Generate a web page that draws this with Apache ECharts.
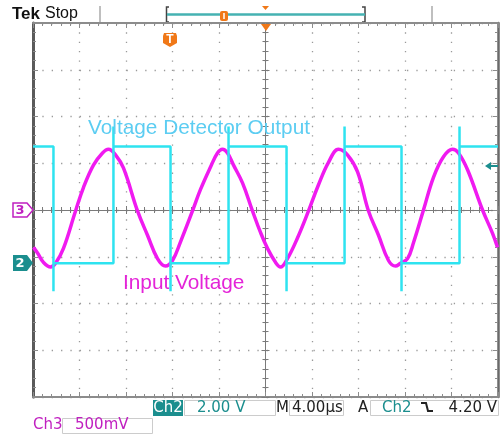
<!DOCTYPE html>
<html><head><meta charset="utf-8">
<script src="https://cdn.jsdelivr.net/npm/echarts@6/dist/echarts.min.js"></script>
<style>html,body{margin:0;padding:0;background:#fff}#c{width:500px;height:434px}</style>
</head><body><div id="c"></div>
<script>
// Horizontal: 4.00 µs/div, 10 divisions, trigger at centre
const timeMin = -20, timeMax = 20, timePerDiv = 4;
// Ch3 (Input Voltage): 500 mV/div, ground marker at centre
const ch3Min = -2, ch3Max = 2, ch3PerDiv = 0.5;
// Ch2 (Voltage Detector Output): 2.00 V/div, ground marker 1.14 div below centre
const ch2Min = -5.72, ch2Max = 10.28;

// Ch3 trace (µs, V)
const ch3Time = [-19.96,-19.61,-19.10,-18.49,-18.06,-17.38,-16.34,-15.66,-14.80,-14.02,-13.51,-12.90,-12.22,-11.01,-10.15,-9.29,
  -8.60,-8.00,-7.31,-6.28,-5.59,-4.73,-4.13,-3.70,-3.27,-2.75,-1.98,-1.12,-0.43,0.17,0.86,
  1.29,1.89,2.75,3.70,4.56,5.42,6.28,7.05,7.91,8.86,9.72,10.58,11.18,
  11.61,12.22,12.73,13.59,14.45,15.31,16.09,16.60,17.38,18.67,19.53,19.96];
const ch3Volt = [-0.40,-0.46,-0.56,-0.61,-0.57,-0.41,-0.01,0.24,0.48,0.61,0.65,0.59,0.45,-0.01,-0.27,-0.52,
  -0.60,-0.54,-0.34,-0.01,0.22,0.46,0.61,0.65,0.61,0.48,0.29,-0.01,-0.24,-0.41,-0.56,
  -0.61,-0.52,-0.30,-0.01,0.27,0.51,0.65,0.59,0.41,-0.01,-0.27,-0.54,-0.60,
  -0.57,-0.52,-0.35,0.00,0.35,0.57,0.65,0.61,0.43,0.00,-0.25,-0.40];

const ch2Time = [-20,-18.24,-18.24,-18.24,-13.08,-13.08,-13.08,-8.17,-8.17,-8.17,-3.18,-3.18,-3.18,
  1.81,1.81,1.81,6.80,6.80,6.80,11.70,11.70,11.70,16.69,16.69,16.69,20];
const ch2Volt = [5.0,5.0,-1.2,0.0,0.0,5.85,5.0,5.0,-1.2,0.0,0.0,5.85,5.0,
  5.0,-1.2,0.0,0.0,5.85,5.0,5.0,-1.2,0.0,0.0,5.85,5.0,5.0];

const GRID_C = '#8c8c8c', TEAL = '#1b8e8e', ORANGE = '#f07818', MAG = '#c020c0';

function borderX(pos){
  return {type:'value', min:timeMin, max:timeMax, interval:timePerDiv, position:pos,
    axisLine:{show:true,onZero:false,lineStyle:{color:GRID_C,width:2}},
    axisTick:{show:true,inside:true,length:5,lineStyle:{color:GRID_C}},
    minorTick:{show:true,splitNumber:5,length:3,lineStyle:{color:GRID_C}},
    axisLabel:{show:false},
    splitLine:{show:pos==='bottom',lineStyle:{color:'#9a9a9a',width:1.3,type:[1.3,8.05]}}};
}
function centreX(inside){
  return {type:'value', min:timeMin, max:timeMax, interval:timePerDiv, position:'bottom',
    axisLine:{show:true,onZero:true,onZeroAxisIndex:0,lineStyle:{color:'#7a7a7a',width:1}},
    axisTick:{show:true,inside:inside,length:4,lineStyle:{color:'#7a7a7a'}},
    minorTick:{show:true,splitNumber:5,length:3,lineStyle:{color:'#7a7a7a'}},
    axisLabel:{show:false}, splitLine:{show:false}};
}
function borderY(pos,color,width){
  return {type:'value', min:ch3Min, max:ch3Max, interval:ch3PerDiv, position:pos,
    axisLine:{show:true,onZero:false,lineStyle:{color:color,width:width}},
    axisTick:{show:true,inside:true,length:5,lineStyle:{color:GRID_C}},
    minorTick:{show:true,splitNumber:5,length:3,lineStyle:{color:GRID_C}},
    axisLabel:{show:false},
    splitLine:{show:pos==='left',lineStyle:{color:'#9a9a9a',width:1.3,type:[1.3,8.05]}}};
}
function centreY(inside){
  return {type:'value', min:ch3Min, max:ch3Max, interval:ch3PerDiv, position:'left',
    axisLine:{show:true,onZero:true,onZeroAxisIndex:0,lineStyle:{color:'#7a7a7a',width:1}},
    axisTick:{show:true,inside:inside,length:4,lineStyle:{color:'#7a7a7a'}},
    minorTick:{show:true,splitNumber:5,length:3,lineStyle:{color:'#7a7a7a'}},
    axisLabel:{show:false}, splitLine:{show:false}};
}

const FT = 'DejaVu Sans';
const graphics = [
  // header
  {type:'text', left:12, top:6, style:{text:'Tek', font:'bold 17px "Liberation Sans"', fill:'#111'}},
  {type:'text', left:45, top:6, style:{text:'Stop', font:'16px "Liberation Sans"', fill:'#111'}},
  {type:'line', shape:{x1:100,y1:6,x2:100,y2:22}, style:{stroke:'#aaa',lineWidth:1.5}},
  {type:'line', shape:{x1:432,y1:6,x2:432,y2:22}, style:{stroke:'#aaa',lineWidth:1.5}},
  {type:'polyline', shape:{points:[[169,7],[166.5,7],[166.5,22],[169,22]]}, style:{stroke:'#444',lineWidth:1.5,fill:null}},
  {type:'polyline', shape:{points:[[362,7],[365,7],[365,22],[362,22]]}, style:{stroke:'#444',lineWidth:1.5,fill:null}},
  {type:'line', shape:{x1:167,y1:14.5,x2:365,y2:14.5}, style:{stroke:'#45b2b2',lineWidth:2.5}},
  {type:'rect', shape:{x:220,y:11,width:8,height:10,r:2}, style:{fill:ORANGE}},
  {type:'line', shape:{x1:224,y1:13,x2:224,y2:19}, style:{stroke:'#fff',lineWidth:1.5}},
  {type:'polygon', shape:{points:[[262,6],[269,6],[265.5,10]]}, style:{fill:ORANGE}},
  // trigger markers
  {type:'polygon', shape:{points:[[261,24],[271,24],[266,31]]}, style:{fill:ORANGE}, z:100},
  {type:'polygon', shape:{points:[[164,33],[176,33],[177,36],[177,43],[170,47],[163,43],[163,36]]}, style:{fill:ORANGE}, z:100},
  {type:'text', x:170, y:40, z:101, style:{text:'T', font:'bold 12px "Liberation Sans"', fill:'#fff', align:'center', verticalAlign:'middle'}},
  // channel ground markers
  {type:'polygon', shape:{points:[[13,203],[27,203],[33,210],[27,217],[13,217]]}, style:{fill:'#fff',stroke:MAG,lineWidth:1.5}, z:100},
  {type:'text', x:20, y:210.5, z:101, style:{text:'3', font:'bold 13px "DejaVu Sans"', fill:MAG, align:'center', verticalAlign:'middle'}},
  {type:'polygon', shape:{points:[[13,255],[27,255],[33,263],[27,271],[13,271]]}, style:{fill:TEAL}, z:100},
  {type:'text', x:20, y:263.5, z:101, style:{text:'2', font:'bold 13px "DejaVu Sans"', fill:'#fff', align:'center', verticalAlign:'middle'}},
  // trigger level arrow
  {type:'line', shape:{x1:488,y1:166,x2:498,y2:166}, style:{stroke:TEAL,lineWidth:2}, z:100},
  {type:'polygon', shape:{points:[[485,166],[491,162],[491,170]]}, style:{fill:TEAL}, z:100},
  // trace labels
  {type:'text', x:88, y:128, z:50, style:{text:'Voltage Detector Output', font:'20.8px "Liberation Sans"', fill:'#5ccdf2', verticalAlign:'middle'}},
  {type:'text', x:123, y:283, z:50, style:{text:'Input Voltage', font:'20.8px "Liberation Sans"', fill:'#e424d8', verticalAlign:'middle'}},
  // footer row 1
  {type:'rect', shape:{x:153,y:400,width:30,height:16}, style:{fill:TEAL}},
  {type:'text', x:168, y:408.5, style:{text:'Ch2', font:'15px '+FT, fill:'#fff', align:'center', verticalAlign:'middle'}},
  {type:'rect', shape:{x:184.5,y:400.5,width:91,height:15}, style:{fill:'#fff',stroke:'#ccc',lineWidth:1}},
  {type:'text', x:197, y:408.5, style:{text:'2.00 V', font:'15px '+FT, fill:TEAL, verticalAlign:'middle'}},
  {type:'text', x:276, y:408.5, style:{text:'M', font:'15px '+FT, fill:'#222', verticalAlign:'middle'}},
  {type:'rect', shape:{x:289.5,y:400.5,width:54,height:15}, style:{fill:'#fff',stroke:'#ccc',lineWidth:1}},
  {type:'text', x:292, y:408.5, style:{text:'4.00µs', font:'15px '+FT, fill:'#222', verticalAlign:'middle'}},
  {type:'text', x:358, y:408.5, style:{text:'A', font:'15px '+FT, fill:'#222', verticalAlign:'middle'}},
  {type:'rect', shape:{x:370.5,y:400.5,width:128,height:15}, style:{fill:'#fff',stroke:'#ccc',lineWidth:1}},
  {type:'text', x:382, y:408.5, style:{text:'Ch2', font:'15px '+FT, fill:TEAL, verticalAlign:'middle'}},
  {type:'polyline', shape:{points:[[421,403],[426,403],[428,411],[433,411]]}, style:{stroke:'#222',lineWidth:2,fill:null}},
  {type:'text', x:497, y:408.5, style:{text:'4.20 V', font:'15px '+FT, fill:'#222', align:'right', verticalAlign:'middle'}},
  // footer row 2
  {type:'text', x:33, y:425.5, style:{text:'Ch3', font:'15px '+FT, fill:MAG, verticalAlign:'middle'}},
  {type:'rect', shape:{x:62.5,y:418.5,width:90,height:15}, style:{fill:'#fff',stroke:'#ccc',lineWidth:1}},
  {type:'text', x:75, y:425.5, style:{text:'500mV', font:'15px '+FT, fill:MAG, verticalAlign:'middle'}}
];

const chart = echarts.init(document.getElementById('c'), null, {renderer:'canvas'});
chart.setOption({
  animation:false,
  backgroundColor:'#ffffff',
  grid:{left:33, right:2, top:23, bottom:37, show:false},
  xAxis:[borderX('bottom'), borderX('top'), centreX(true), centreX(false)],
  yAxis:[borderY('left','#5a5a5a',3),
         {type:'value', min:ch2Min, max:ch2Max, show:false, axisLine:{onZero:false}},
         borderY('right','#6a6a6a',2.5), centreY(true), centreY(false)],
  series:[
    {type:'line', name:'Input Voltage', xAxisIndex:0, yAxisIndex:0,
     data:ch3Time.map((t,i)=>[t,ch3Volt[i]]), smooth:0.4, showSymbol:false, silent:true,
     lineStyle:{color:'#f01af0', width:3.5}, z:3},
    {type:'line', name:'Voltage Detector Output', xAxisIndex:0, yAxisIndex:1,
     data:ch2Time.map((t,i)=>[t,ch2Volt[i]]), showSymbol:false, silent:true,
     lineStyle:{color:'#2ee3f0', width:2.5}, z:4}
  ],
  graphic:{elements:graphics}
});
</script></body></html>
